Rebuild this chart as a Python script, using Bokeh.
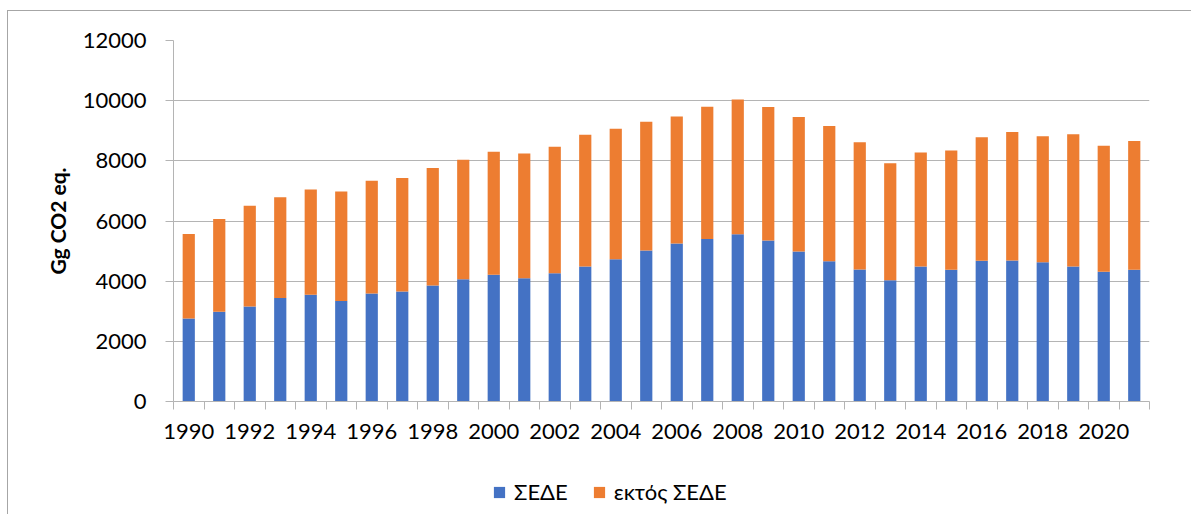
from bokeh.plotting import figure
from bokeh.layouts import column
from bokeh.models import ColumnDataSource, FixedTicker, Legend, LegendItem, Range1d
from bokeh.embed import file_html
from bokeh.resources import INLINE

years = list(range(1990, 2022))
sede = [2760, 2980, 3160, 3440, 3550, 3340, 3590, 3660, 3860, 4060,
        4210, 4100, 4260, 4490, 4730, 5020, 5250, 5400, 5560, 5350,
        4990, 4660, 4390, 4030, 4490, 4380, 4680, 4690, 4630, 4490,
        4310, 4380]
total = [5570, 6070, 6510, 6790, 7050, 6980, 7340, 7430, 7760, 8040,
         8300, 8240, 8470, 8870, 9070, 9300, 9470, 9800, 10040, 9790,
         9460, 9160, 8620, 7920, 8280, 8340, 8780, 8960, 8820, 8880,
         8500, 8660]
non_sede = [t - s for t, s in zip(total, sede)]
series_names = ["ΣΕΔΕ", "εκτός ΣΕΔΕ"]
colors = ["#4472C4", "#ED7D31"]
y_ticks = [0, 2000, 4000, 6000, 8000, 10000, 12000]
x_label_years = years[::2]
y_title = "Gg CO2 eq."

src = ColumnDataSource(dict(year=years, sede=sede, non_sede=non_sede))

FONT = "Lato"
GRID = "#b4b4b4"
BORDER = "#a6a6a6"
W = 1191

p = figure(width=W, height=460, output_backend="svg", toolbar_location=None,
           x_range=Range1d(years[0] - 0.5, years[-1] + 0.5),
           y_range=Range1d(0, 12000),
           min_border_left=173, min_border_right=42, min_border_top=40,
           min_border_bottom=59)
p.outline_line_color = None
p.background_fill_color = "white"
p.border_fill_alpha = 0

r = p.vbar_stack(["sede", "non_sede"], x="year", width=0.4, source=src,
                 color=colors, line_color=None)

xa = p.xaxis[0]
xa.ticker = FixedTicker(ticks=x_label_years,
                        minor_ticks=[y - 0.5 for y in years] + [years[-1] + 0.5])
xa.major_tick_out = 0
xa.major_tick_in = 0
xa.minor_tick_out = 8
xa.minor_tick_in = 0
xa.minor_tick_line_color = GRID
xa.axis_line_color = GRID
xa.major_label_text_font = FONT
xa.major_label_text_font_size = "22px"
xa.major_label_text_color = "black"
xa.major_label_standoff = 14

ya = p.yaxis[0]
ya.ticker = FixedTicker(ticks=y_ticks)
ya.major_tick_out = 8
ya.major_tick_in = 0
ya.minor_tick_line_color = None
ya.major_tick_line_color = GRID
ya.axis_line_color = GRID
ya.major_label_text_font = FONT
ya.major_label_text_font_size = "22px"
ya.major_label_text_color = "black"
ya.major_label_standoff = 19
ya.axis_label = y_title
ya.axis_label_text_font = FONT
ya.axis_label_text_font_style = "bold"
ya.axis_label_text_font_size = "21px"
ya.axis_label_text_color = "black"
ya.axis_label_standoff = 10

p.xgrid.grid_line_color = None
p.ygrid.ticker = FixedTicker(ticks=y_ticks)
p.ygrid.grid_line_color = GRID
p.ygrid.grid_line_width = 1

# legend strip below the chart (its frame is aligned with the chart's frame)
lg = figure(width=W, height=54, output_backend="svg", toolbar_location=None,
            x_range=Range1d(0, 1), y_range=Range1d(0, 1),
            x_axis_location=None, y_axis_location=None,
            min_border_left=0, min_border_right=0, min_border_top=0,
            min_border_bottom=0)
lg.outline_line_color = None
lg.grid.grid_line_color = None
lg.background_fill_alpha = 0
lg.border_fill_alpha = 0
key_src = ColumnDataSource(dict(x=[0.5], top=[0], bottom=[0]))
d0 = lg.vbar(x="x", top="top", bottom="bottom", width=0.0, source=key_src,
             color=colors[0], line_color=None)
d1 = lg.vbar(x="x", top="top", bottom="bottom", width=0.0, source=key_src,
             color=colors[1], line_color=None)
legend = Legend(items=[LegendItem(label=series_names[0], renderers=[d0]),
                       LegendItem(label=series_names[1], renderers=[d1])],
                orientation="horizontal", location=(319, 9),
                glyph_width=14, glyph_height=14, label_standoff=8, spacing=24,
                padding=0, margin=0, border_line_color=None,
                background_fill_alpha=0,
                label_text_font=FONT, label_text_font_size="22px",
                label_text_color="black")
lg.add_layout(legend, "center")

layout = column(p, lg, spacing=0)
layout.styles = {"background": (f"linear-gradient({BORDER},{BORDER}) 7px 10px / 100% 1px no-repeat, "
                                f"linear-gradient({BORDER},{BORDER}) 7px 10px / 1px 100% no-repeat, white")}

open("out.html", "w").write(file_html(layout, INLINE))
